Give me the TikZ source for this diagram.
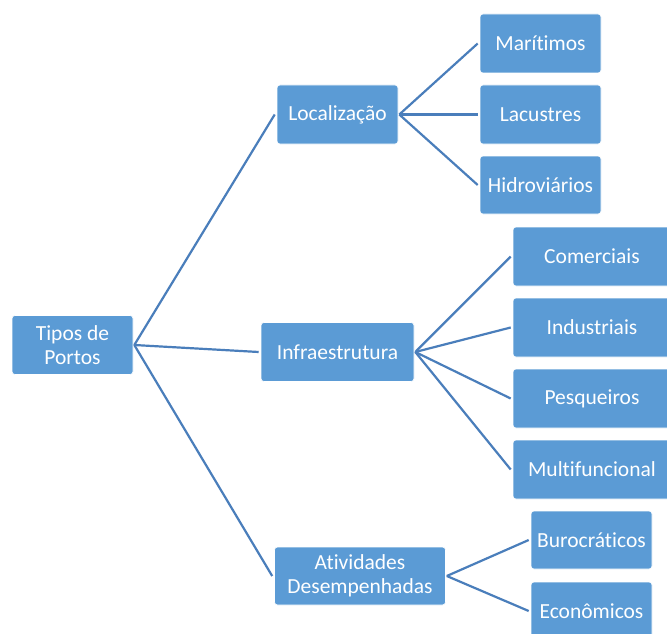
\documentclass[tikz,border=0pt]{standalone}
\usepackage{fontspec}
\setmainfont[Ligatures=NoCommon]{Carlito}
\definecolor{boxblue}{HTML}{5B9BD5}
\definecolor{lineblue}{HTML}{4A7EBB}
\begin{document}
\begin{tikzpicture}[x=1pt,y=-1pt,
  box/.style={rectangle, rounded corners=3pt, fill=boxblue, draw=white, line width=0.6pt,
    text=white, font=\fontsize{21.5}{24}\selectfont, align=center, inner sep=0pt},
  conn/.style={draw=lineblue, line width=2.2pt}]
\clip (0,0) rectangle (667,634);
\fill[white] (0,0) rectangle (667,634);
% nodes (center, width, height)
\node[box, minimum width=121pt, minimum height=59pt] (tipos) at (72.5,345) {Tipos de\\Portos};
\node[box, minimum width=121pt, minimum height=59pt] (loc) at (337.5,114.5) {Localização};
\node[box, minimum width=153pt, minimum height=59pt] (infra) at (337.5,352) {Infraestrutura};
\node[box, minimum width=171pt, minimum height=58pt] (ativ) at (360,576) {Atividades\\Desempenhadas};
\node[box, minimum width=121pt, minimum height=59pt] (mar) at (540.5,43.5) {Marítimos};
\node[box, minimum width=121pt, minimum height=59pt] (lac) at (540.5,114.5) {Lacustres};
\node[box, minimum width=121pt, minimum height=58pt] (hid) at (540.5,185) {Hidroviários};
\node[box, minimum width=158pt, minimum height=59pt] (com) at (592,256.5) {Comerciais};
\node[box, minimum width=158pt, minimum height=59pt] (ind) at (592,327.5) {Industriais};
\node[box, minimum width=158pt, minimum height=59pt] (pes) at (592,398.5) {Pesqueiros};
\node[box, minimum width=158pt, minimum height=59pt] (mul) at (592,469.5) {Multifuncional};
\node[box, minimum width=121pt, minimum height=58pt] (bur) at (591.5,540) {Burocráticos};
\node[box, minimum width=121pt, minimum height=58pt] (eco) at (591.5,611) {Econômicos};
% connectors
\draw[conn] ([xshift=1pt]tipos.east) -- ([xshift=-2pt]loc.west);
\draw[conn] ([xshift=1pt]tipos.east) -- ([xshift=-2pt]infra.west);
\draw[conn] ([xshift=1pt]tipos.east) -- ([xshift=-2pt]ativ.west);
\draw[conn] ([xshift=1pt]loc.east) -- ([xshift=-2pt]mar.west);
\draw[conn] ([xshift=1pt]loc.east) -- ([xshift=-2pt]lac.west);
\draw[conn] ([xshift=1pt]loc.east) -- ([xshift=-2pt]hid.west);
\draw[conn] ([xshift=1pt]infra.east) -- ([xshift=-2pt]com.west);
\draw[conn] ([xshift=1pt]infra.east) -- ([xshift=-2pt]ind.west);
\draw[conn] ([xshift=1pt]infra.east) -- ([xshift=-2pt]pes.west);
\draw[conn] ([xshift=1pt]infra.east) -- ([xshift=-2pt]mul.west);
\draw[conn] ([xshift=1pt]ativ.east) -- ([xshift=-2pt]bur.west);
\draw[conn] ([xshift=1pt]ativ.east) -- ([xshift=-2pt]eco.west);
\end{tikzpicture}
\end{document}
